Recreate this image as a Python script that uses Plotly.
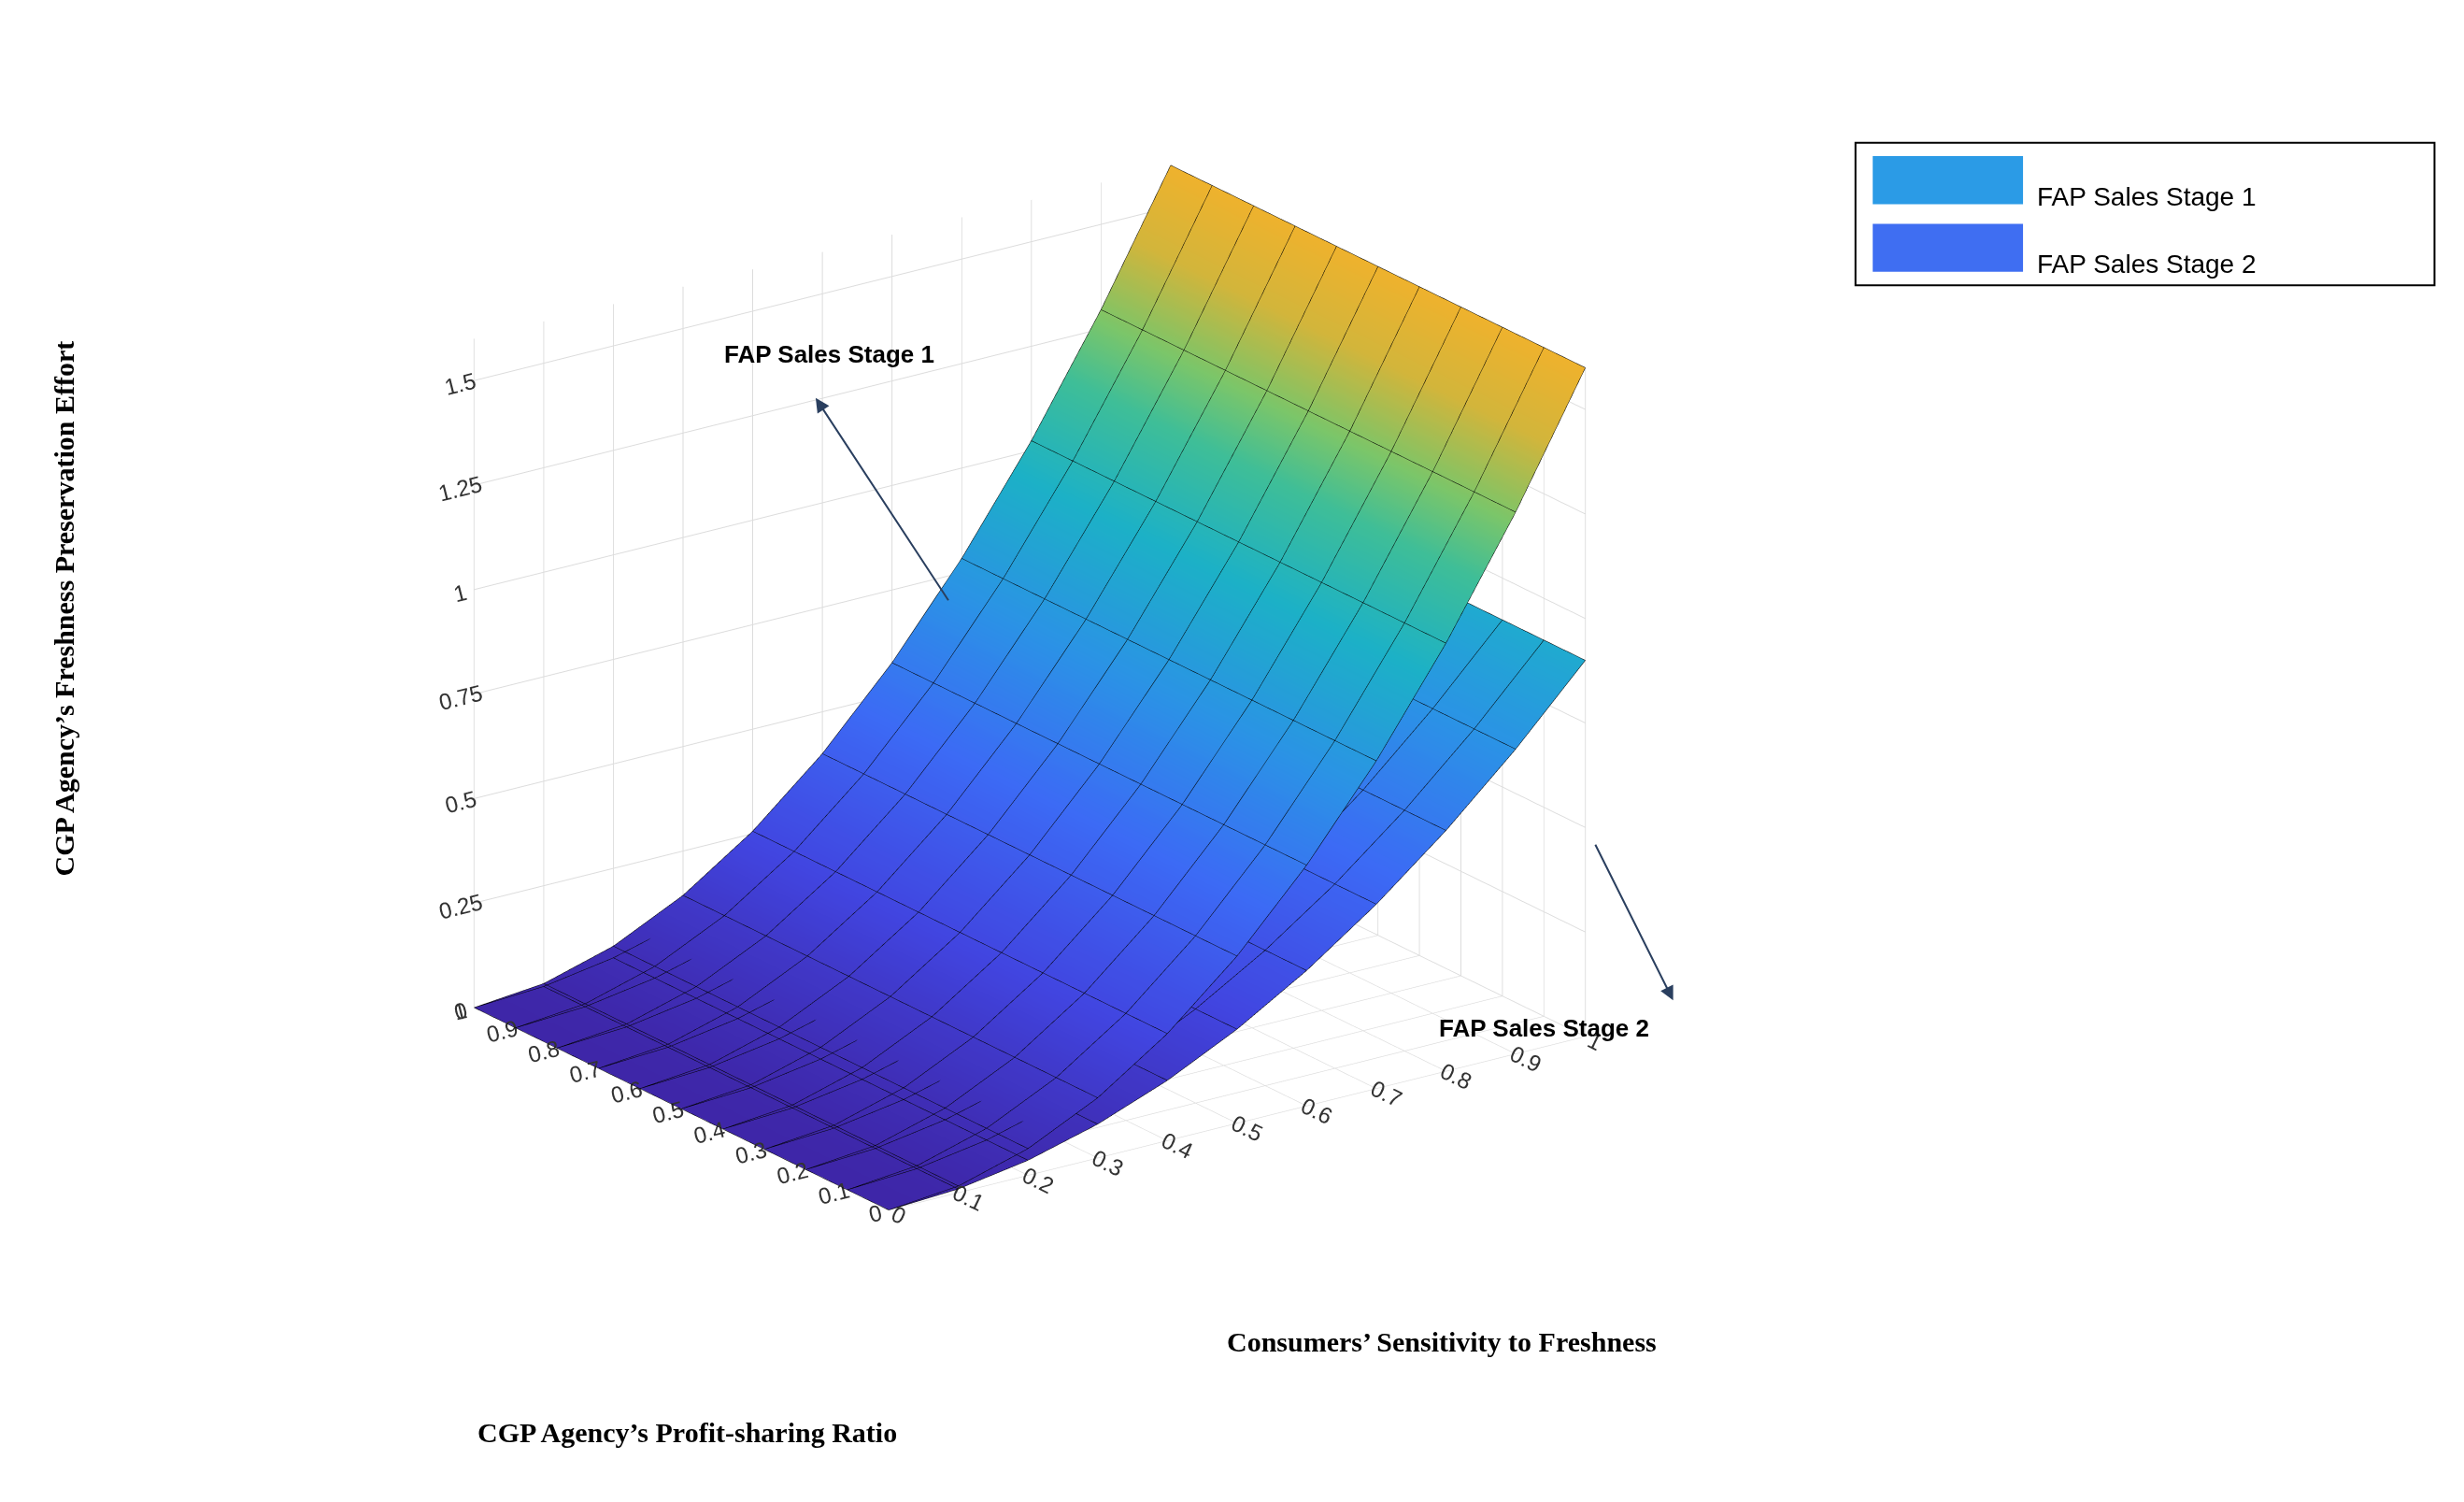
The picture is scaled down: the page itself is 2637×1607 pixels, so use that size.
import numpy as np
import plotly.graph_objects as go

# consumers' sensitivity to freshness (x) and profit-sharing ratio (y)
sensitivity = [0, 0.1, 0.2, 0.3, 0.4, 0.5, 0.6, 0.7, 0.8, 0.9, 1.0]
profit_ratio = [0, 0.1, 0.2, 0.3, 0.4, 0.5, 0.6, 0.7, 0.8, 0.9, 1.0]

# effort per sensitivity value (flat along the ratio axis)
effort_stage1 = [0, 0.016, 0.064, 0.144, 0.256, 0.40, 0.576, 0.784, 1.024, 1.296, 1.60]
effort_stage2 = [0, 0.009, 0.036, 0.081, 0.144, 0.225, 0.324, 0.441, 0.576, 0.729, 0.90]

z_ticks = [0, 0.25, 0.5, 0.75, 1, 1.25, 1.5]
z_tick_text = ["0", "0.25", "0.5", "0.75", "1", "1.25", "1.5"]

series_names = ["FAP Sales Stage 1", "FAP Sales Stage 2"]
legend_colors = ["#2b9be6", "#3f6ef2"]

PARULA = [
    [0.0, "#3e26a8"], [0.15, "#4145e0"], [0.3, "#3c6af5"], [0.45, "#2b92e6"],
    [0.6, "#1cb2c8"], [0.72, "#3fc09a"], [0.8, "#7ec86a"], [0.9, "#d6b83c"],
    [1.0, "#f2b52e"],
]

Z1 = np.tile(effort_stage1, (len(profit_ratio), 1))
Z2 = np.tile(effort_stage2, (len(profit_ratio), 1))

contours = dict(
    x=dict(show=True, color="black", width=2, start=0, end=1, size=0.1),
    y=dict(show=True, color="black", width=2, start=0, end=1, size=0.1),
)

fig = go.Figure()
for name, Z in zip(series_names, [Z1, Z2]):
    fig.add_trace(go.Surface(
        x=sensitivity, y=profit_ratio, z=Z, name=name,
        colorscale=PARULA, cmin=0, cmax=1.6, showscale=False,
        contours=contours, showlegend=False,
        lighting=dict(ambient=0.95, diffuse=0.1, specular=0.0),
    ))

axis_common = dict(
    backgroundcolor="white", gridcolor="#dcdcdc", showbackground=True,
    tickfont=dict(family="Liberation Sans", size=17, color="#333"),
    showspikes=False, zeroline=False, title=dict(text=""),
)
fig.update_layout(
    width=2637, height=1607, paper_bgcolor="white",
    margin=dict(l=0, r=0, t=0, b=0),
    scene=dict(
        xaxis=dict(axis_common, range=[0, 1], dtick=0.1),
        yaxis=dict(axis_common, range=[0, 1], dtick=0.1),
        zaxis=dict(axis_common, range=[0, 1.6], tickvals=z_ticks, ticktext=z_tick_text),
        camera=dict(eye=dict(x=-1.25, y=-1.75, z=0.75), center=dict(x=0, y=0, z=-0.05),
                    projection=dict(type="orthographic")),
        aspectmode="manual", aspectratio=dict(x=1.2, y=1, z=1.0),
        domain=dict(x=[0.03, 0.8], y=[0.05, 1.0]),
    ),
)

# legend box drawn in paper coords
fig.add_shape(type="rect", xref="paper", yref="paper", x0=0.75, x1=0.985, y0=0.815, y1=0.91,
              line=dict(color="black", width=2), fillcolor="white")
for i, (name, col) in enumerate(zip(series_names, legend_colors)):
    yc = 0.885 - i * 0.045
    fig.add_shape(type="rect", xref="paper", yref="paper", x0=0.757, x1=0.818,
                  y0=yc - 0.016, y1=yc + 0.016, line=dict(width=0), fillcolor=col)
    fig.add_annotation(text=name, xref="paper", yref="paper", x=0.823, y=yc,
                       xanchor="left", showarrow=False,
                       font=dict(family="Liberation Sans", size=28, color="black"))

fig.add_annotation(text="<b>CGP Agency’s Freshness Preservation Effort</b>", textangle=-90,
                   xref="paper", yref="paper", x=0.016, y=0.6, showarrow=False,
                   font=dict(family="Liberation Serif", size=30, color="black"))
fig.add_annotation(text="<b>Consumers’ Sensitivity to Freshness</b>",
                   xref="paper", yref="paper", x=0.67, y=0.1, showarrow=False,
                   font=dict(family="Liberation Serif", size=30, color="black"))
fig.add_annotation(text="<b>CGP Agency’s Profit-sharing Ratio</b>",
                   xref="paper", yref="paper", x=0.19, y=0.04, showarrow=False,
                   font=dict(family="Liberation Serif", size=30, color="black"))

fig.add_annotation(text="<b>FAP Sales Stage 1</b>", xref="paper", yref="paper",
                   x=0.29, y=0.78, showarrow=False,
                   font=dict(family="Liberation Sans", size=26, color="black"))
fig.add_annotation(text="", xref="paper", yref="paper", x=0.328, y=0.74,
                   ax=143, ay=218, showarrow=True, arrowhead=2, arrowsize=1.5, arrowwidth=2)
fig.add_annotation(text="<b>FAP Sales Stage 2</b>", xref="paper", yref="paper",
                   x=0.667, y=0.31, showarrow=False,
                   font=dict(family="Liberation Sans", size=26, color="black"))
fig.add_annotation(text="", xref="paper", yref="paper", x=0.676, y=0.339,
                   ax=-84, ay=-168, showarrow=True, arrowhead=2, arrowsize=1.5, arrowwidth=2)

fig.write_html("out.html")
